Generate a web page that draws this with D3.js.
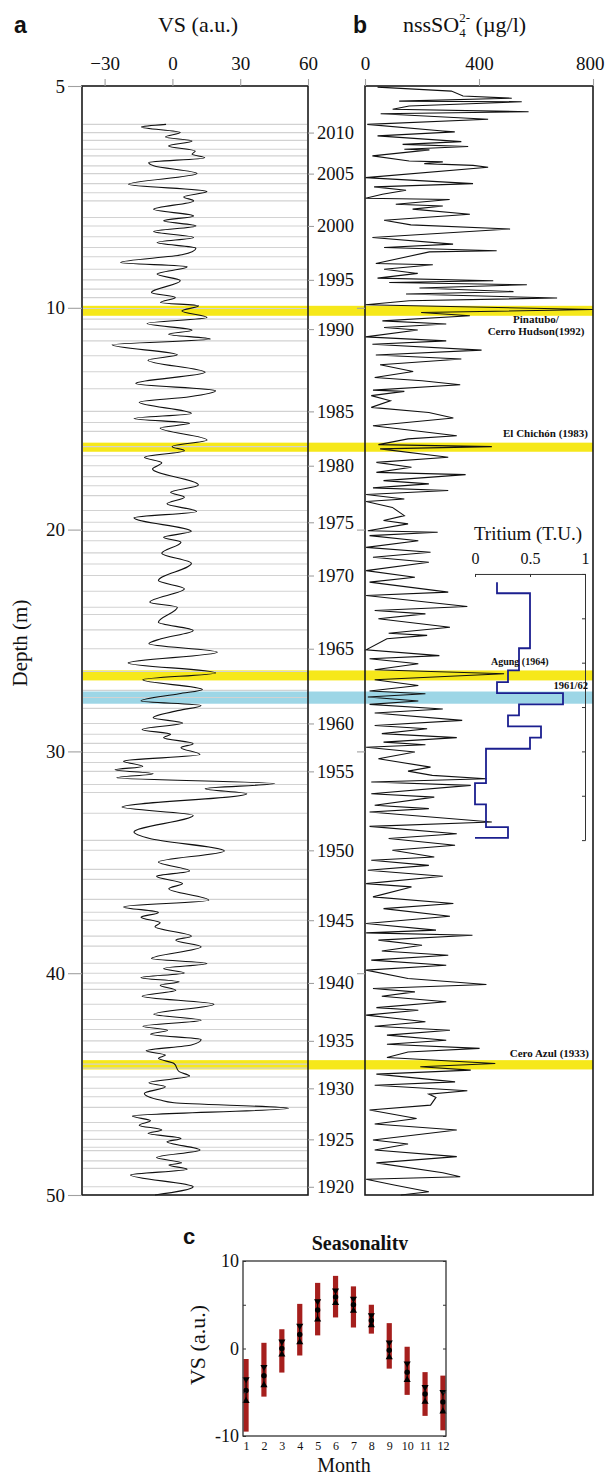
<!DOCTYPE html>
<html><head><meta charset="utf-8">
<script src="https://cdn.jsdelivr.net/npm/d3@7"></script>
<style>body{margin:0;background:#fff}svg{display:block}</style>
</head><body>
<svg id="chart" width="606" height="1477"></svg>
<script>
// ---------------- DATA ----------------
// depth axis
const depthTicks = [0, 10, 20, 30, 40, 50];
const depthTickLabels = ["5", "10", "20", "30", "40", "50"];
const vsTicks = [-30, 0, 30, 60];
const so4Ticks = [0, 400, 800];
const tritiumTicks = [0, 0.5, 1];
const tritiumTickLabels = ["0", "0.5", "1"];
const tritiumDepthTicks = [24, 26, 28, 30, 32];

// annual layers (depth of each year boundary, 2011 -> 1920)
const layerYears = d3.range(2011, 1919, -1);
const layerDepths = [1.73,2.10,2.45,2.85,3.15,3.60,3.95,4.40,4.81,5.18,5.93,6.31,
  6.80,7.28,7.70,8.26,8.74,9.16,9.54,10.03,10.51,10.96,
  11.49,12.16,12.88,13.65,14.67,15.17,15.57,16.26,16.67,17.12,
  17.61,18.02,18.47,19.14,19.67,20.08,20.50,21.05,21.55,22.07,
  22.78,23.50,23.83,24.52,25.37,26.40,27.25,27.57,28.06,28.74,
  29.23,29.64,30.05,30.50,30.90,31.49,31.85,32.79,34.01,34.46,
  35.32,35.77,36.67,37.25,37.61,38.33,38.78,39.55,40.00,40.44,
  40.73,41.40,42.09,42.54,43.05,43.56,44.10,44.28,44.68,45.19,
  45.57,46.05,46.73,47.10,47.49,47.85,48.00,48.46,48.80,49.63];
const labeledYears = [2010,2005,2000,1995,1990,1985,1980,1975,1970,1965,1960,1955,1950,1945,1940,1935,1930,1925,1920];

// VS profile (depth m, value a.u.)
const vsDepth = [1.73,1.85,2.10,2.30,2.48,2.70,2.93,3.08,3.23,3.45,3.60,3.95,4.43,4.76,5.00,5.18,5.56,5.86,6.08,6.31,
  6.56,6.83,7.06,7.31,7.61,7.96,8.15,8.48,8.78,9.31,9.53,9.76,9.91,10.14,10.44,10.71,11.01,11.19,11.41,11.67,
  12.12,12.36,12.91,13.41,13.74,14.01,14.26,14.76,14.99,15.21,15.42,15.96,16.26,16.44,16.74,16.99,17.27,17.99,18.32,18.54,
  18.84,19.18,19.47,20.08,20.35,20.57,21.07,21.52,22.30,22.67,23.27,23.50,24.18,24.55,24.92,25.15,25.53,26.01,26.46,26.77,
  27.21,27.40,27.73,27.93,28.15,28.48,28.72,29.01,29.23,29.38,29.65,29.83,30.14,30.44,30.68,30.83,31.01,31.19,31.45,31.68,
  31.91,32.51,32.88,33.63,33.93,34.49,34.99,35.39,35.63,35.96,36.19,36.71,37.01,37.26,37.48,37.73,37.91,38.33,38.51,38.81,
  39.34,39.56,39.79,39.99,40.20,40.39,40.54,40.77,41.04,41.40,41.85,42.12,42.39,42.57,42.75,42.99,43.24,43.50,43.69,43.84,
  44.07,44.44,44.64,44.94,45.12,45.42,45.72,45.84,46.09,46.44,46.65,46.85,47.07,47.22,47.45,47.60,47.97,48.31,48.55,48.65,
  48.84,49.10,49.63,50.00];
const vsValue = [-2.8,-13.7,3.5,-3.1,8.7,-1.7,10.1,8.7,14.3,-10.5,-8.3,10.9,-19.4,15.3,5.0,9.4,-8.3,9.4,-3.9,10.4,
  -8.3,9.4,-6.8,10.4,4.2,-23.0,6.5,-6.8,3.5,-9.3,1.3,-5.3,11.6,4.2,15.3,-11.2,8.7,-1.7,16.8,-26.7,
  2.2,-10.8,14.5,-16.2,19.1,7.6,-14.7,8.4,-17.0,7.6,-5.4,15.3,-0.1,5.3,-12.4,-4.7,-8.8,11.5,-0.8,5.3,
  -2.4,10.7,-17.0,8.4,-3.9,3.8,-4.7,8.4,-6.2,5.3,-10.0,2.2,-6.2,9.2,-5.0,-10.4,19.9,-19.6,19.1,-13.1,
  13.3,3.0,-13.9,12.7,3.0,-8.5,4.5,-13.4,-0.8,-3.9,9.2,3.8,12.2,-21.6,-13.1,-25.4,-8.5,-24.6,45.3,14.5,
  32.9,-22.3,9.2,-17.0,-10.0,23.0,-6.2,7.6,-7.0,4.5,-1.6,16.1,-21.6,-6.2,-13.9,-5.4,-7.7,8.4,1.5,12.7,
  -9.3,15.3,-3.9,5.3,-13.9,3.0,-5.4,1.5,-13.4,18.4,-8.2,12.7,-13.1,-2.1,-9.7,12.7,8.4,-11.6,-3.1,-6.2,
  0.7,3.0,7.6,-10.4,-3.1,-12.4,-5.4,0.7,51.4,-17.7,-9.7,-14.7,-4.7,-10.8,3.8,-2.4,12.2,-7.0,4.1,-1.6,
  6.5,-18.5,9.2,-7.7];

// nssSO4 profile (depth m, µg/l)
const so4Depth = [0.05,0.23,0.45,0.55,0.68,0.71,0.90,1.05,1.16,1.25,1.50,1.73,2.03,2.07,2.25,2.51,2.63,2.73,2.85,2.88,
  3.15,3.38,3.42,3.50,3.58,3.66,4.13,4.40,4.55,4.70,4.88,5.06,5.12,5.33,5.41,5.55,5.78,6.05,6.26,6.45,
  6.83,7.13,7.28,7.43,7.48,8.00,8.06,8.26,8.45,8.66,8.78,8.86,8.96,9.11,9.27,9.38,9.56,9.68,9.86,10.08,
  10.21,10.36,10.59,10.73,10.89,11.00,11.31,11.49,11.64,11.91,12.13,12.31,12.57,12.87,13.14,13.29,13.47,13.71,13.77,13.96,
  14.19,14.49,14.72,14.97,15.32,15.77,15.91,16.17,16.26,16.36,16.74,16.97,17.19,17.42,17.52,17.79,17.94,18.12,18.24,18.42,
  18.62,18.73,19.00,19.37,19.59,19.74,20.05,20.12,20.27,20.50,20.80,21.02,21.25,21.47,21.85,22.15,22.37,22.82,22.97,23.47,
  23.65,23.80,24.02,24.40,24.67,24.77,24.92,25.42,25.68,25.82,26.05,26.32,26.50,26.77,27.03,27.28,27.40,27.55,27.73,27.88,
  28.09,28.27,28.60,28.83,28.98,29.20,29.38,29.58,29.70,29.81,30.03,30.33,30.71,30.89,31.08,31.23,31.38,31.53,31.91,32.06,
  32.43,32.58,32.73,33.18,33.38,33.71,33.93,34.23,34.46,34.76,34.91,35.14,35.36,35.63,35.96,36.11,36.56,36.86,37.09,37.43,
  37.76,38.06,38.18,38.29,38.51,38.74,39.00,39.19,39.41,39.64,39.86,40.24,40.51,40.69,40.84,41.04,41.29,41.55,41.67,41.89,
  42.19,42.39,42.57,42.79,43.02,43.20,43.39,43.55,43.80,44.07,44.22,44.37,44.55,44.90,45.05,45.30,45.45,45.60,45.95,46.17,
  46.55,46.80,47.07,47.52,47.70,47.97,48.27,48.55,49.00,49.18,49.29,49.55,49.85,50.00];
const so4Value = [44,303,344,515,120,550,155,97,574,55,432,8,273,315,44,338,132,362,138,226,
  26,155,273,208,379,432,2,379,32,144,61,2,297,108,273,167,368,67,161,509,
  26,309,67,462,226,38,238,67,185,44,450,85,568,191,521,144,674,155,2,800,
  197,368,61,285,67,185,2,285,26,409,38,338,53,169,34,200,334,28,138,22,
  89,22,224,310,28,322,151,47,445,53,292,40,163,40,353,65,224,28,292,4,
  138,4,96,138,65,151,10,255,16,187,4,230,28,224,4,175,16,292,4,359,
  34,212,47,298,83,218,77,4,261,16,187,34,488,34,187,16,212,10,187,16,
  273,34,341,34,218,59,322,65,212,4,175,47,230,151,236,426,22,371,22,243,
  34,224,16,445,16,322,83,316,96,243,22,224,10,273,4,163,28,310,65,298,
  4,249,4,377,47,200,59,292,22,285,4,151,426,28,175,59,285,40,187,4,
  212,34,298,77,285,77,402,151,77,457,194,371,40,316,34,359,224,249,230,16,
  181,34,322,28,151,34,322,40,273,334,4,102,224,126];

// Tritium step profile (depth of step start, T.U.)
const tritiumDepth = [22.37,22.87,25.35,26.35,26.88,27.37,27.88,28.38,28.87,29.38,29.88,31.43,32.39,33.41,33.90];
const tritiumValue = [0.2,0.5,0.4,0.3,0.2,0.8,0.4,0.3,0.6,0.5,0.1,0.0,0.1,0.3,0.0];

// highlighted horizons
const bandTop = [9.91, 16.08, 26.35, 27.30, 43.92];
const bandBottom = [10.36, 16.49, 26.80, 27.85, 44.34];
const bandKind = ["volcanic", "volcanic", "volcanic", "bomb", "volcanic"];

// Seasonality (panel c)
const months = [1,2,3,4,5,6,7,8,9,10,11,12];
const seasonMean = [-4.8,-3.1,0.0,1.6,4.4,5.9,5.0,3.2,-0.2,-2.7,-5.2,-6.1];
const seasonUpper = [-3.4,-2.0,0.9,2.7,5.5,6.75,5.8,3.9,0.8,-1.6,-4.3,-4.85];
const seasonLower = [-6.1,-4.3,-0.8,0.6,3.2,5.1,4.2,2.55,-1.1,-3.7,-6.2,-7.3];
const seasonMax = [-1.2,0.65,2.2,5.1,7.5,8.3,7.1,5.0,2.9,0.2,-2.7,-3.1];
const seasonMin = [-9.5,-5.5,-2.75,-0.8,1.5,3.55,2.4,1.7,-2.3,-5.3,-7.7,-9.35];
const seasonYTicks = [-10, -5, 0, 5, 10];
const seasonYLabels = {"-10": "-10", "0": "0", "10": "10"};

// ---------------- DRAWING ----------------
const serif = "'Liberation Serif','Times New Roman',Times,serif";
const sans = "'Liberation Sans',Arial,Helvetica,sans-serif";
const svg = d3.select("#chart");

const yD = d3.scaleLinear().domain([0, 50]).range([86, 1195]);
const xA = d3.scaleLinear().domain([-40, 60]).range([82, 308]);
const xB = d3.scaleLinear().domain([0, 800]).range([365, 593]);
const xT = d3.scaleLinear().domain([0, 1]).range([475, 585]);
const yT = d3.scaleLinear().domain([22, 34]).range([yD(22), yD(34)]);

const bandColor = {volcanic: "#f6e81a", bomb: "#9dd6e6"};

// horizons
svg.append("g").selectAll("rect").data(bandTop).join("rect")
  .attr("x", xA.range()[0] + 1)
  .attr("width", xB.range()[1] - xA.range()[0] - 1)
  .attr("y", d => yD(d))
  .attr("height", (d, i) => yD(bandBottom[i]) - yD(d))
  .attr("fill", (d, i) => bandColor[bandKind[i]]);

// annual layer lines
svg.append("g").selectAll("line").data(layerDepths).join("line")
  .attr("x1", xA.range()[0] + 1).attr("x2", xA.range()[1] - 1)
  .attr("y1", d => yD(d)).attr("y2", d => yD(d))
  .attr("stroke", "#d2d2d2").attr("stroke-width", 1.1);

// VS curve
const vsLine = d3.line()
  .x((d, i) => xA(vsValue[i]))
  .y(d => yD(d))
  .curve(d3.curveMonotoneY);
svg.append("path").datum(vsDepth).attr("d", vsLine)
  .attr("fill", "none").attr("stroke", "#111").attr("stroke-width", 1.1);

// SO4 curve
const so4Line = d3.line()
  .x((d, i) => xB(so4Value[i]))
  .y(d => yD(d));
svg.append("path").datum(so4Depth).attr("d", so4Line)
  .attr("fill", "none").attr("stroke", "#111").attr("stroke-width", 1.1)
  .attr("stroke-linejoin", "miter");

// Tritium step
const trLine = d3.line()
  .x((d, i) => xT(tritiumValue[i]))
  .y(d => yD(d))
  .curve(d3.curveStepBefore);
svg.append("path").datum(tritiumDepth).attr("d", trLine)
  .attr("fill", "none").attr("stroke", "#1b1f8f").attr("stroke-width", 1.8);

// Tritium axes
const trTop = svg.append("g").attr("transform", `translate(0,${yD(22)})`)
  .call(d3.axisTop(xT).tickValues(tritiumTicks).tickSizeInner(-3).tickSizeOuter(-3).tickPadding(10)
    .tickFormat((d, i) => tritiumTickLabels[i]));
trTop.selectAll("text").attr("font-family", serif).attr("font-size", 16).attr("fill", "#111");
trTop.selectAll("line,path").attr("stroke", "#333");
const trRight = svg.append("g").attr("transform", `translate(${xT(1)},0)`)
  .call(d3.axisRight(yT).tickValues(tritiumDepthTicks).tickSizeInner(-3).tickSizeOuter(-3).tickFormat(""));
trRight.selectAll("line,path").attr("stroke", "#333");
svg.append("text").attr("x", (xT(0) + xT(1)) / 2 - 2).attr("y", 540)
  .attr("text-anchor", "middle").attr("font-family", serif).attr("font-size", 19)
  .attr("fill", "#111").text("Tritium (T.U.)");

// frames
svg.append("rect").attr("x", xA.range()[0]).attr("y", yD(0))
  .attr("width", xA.range()[1] - xA.range()[0]).attr("height", yD(50) - yD(0))
  .attr("fill", "none").attr("stroke", "#1a1a1a").attr("stroke-width", 1.6);
svg.append("rect").attr("x", xB.range()[0]).attr("y", yD(0))
  .attr("width", xB.range()[1] - xB.range()[0]).attr("height", yD(50) - yD(0))
  .attr("fill", "none").attr("stroke", "#1a1a1a").attr("stroke-width", 1.6);

function styleAxis(g, size) {
  g.select(".domain").remove();
  g.selectAll("line").attr("stroke", "#a0a0a0").attr("stroke-width", 1.1);
  g.selectAll("text").attr("font-family", serif).attr("font-size", size).attr("fill", "#111");
}

// depth axis
const gDepth = svg.append("g").attr("transform", `translate(${xA.range()[0]},0)`)
  .call(d3.axisLeft(yD).tickValues(depthTicks).tickSize(14).tickPadding(3)
    .tickFormat((d, i) => depthTickLabels[i]));
styleAxis(gDepth, 19);
// panel b depth ticks
const gDepthB = svg.append("g").attr("transform", `translate(${xB.range()[0]},0)`)
  .call(d3.axisLeft(yD).tickValues(depthTicks.slice(1, 5)).tickSize(8).tickFormat(""));
styleAxis(gDepthB, 19);

// top axes
const gTopA = svg.append("g").attr("transform", `translate(0,${yD(0)})`)
  .call(d3.axisTop(xA).tickValues(vsTicks).tickSize(7).tickPadding(9));
styleAxis(gTopA, 19);
const gTopB = svg.append("g").attr("transform", `translate(0,${yD(0)})`)
  .call(d3.axisTop(xB).tickValues(so4Ticks).tickSize(7).tickPadding(9));
styleAxis(gTopB, 19);
// keep the last label inside the page
gTopB.selectAll("text").filter(d => d === 800).attr("text-anchor", "end").attr("x", 11);

// year axis
const yearDepth = labeledYears.map(y => layerDepths[layerYears.indexOf(y)]);
const gYear = svg.append("g").attr("transform", `translate(${xA.range()[1]},0)`)
  .call(d3.axisRight(yD).tickValues(yearDepth).tickSize(6).tickPadding(3)
    .tickFormat((d, i) => labeledYears[i]));
styleAxis(gYear, 18.5);

// headers
svg.append("text").attr("x", 14).attr("y", 33).attr("font-family", sans).attr("font-weight", "bold")
  .attr("font-size", 23).attr("fill", "#111").text("a");
svg.append("text").attr("x", 353).attr("y", 33).attr("font-family", sans).attr("font-weight", "bold")
  .attr("font-size", 23).attr("fill", "#111").text("b");
svg.append("text").attr("x", 198).attr("y", 32).attr("text-anchor", "middle").attr("font-family", serif)
  .attr("font-size", 22).attr("fill", "#111").text("VS (a.u.)");
const hb = svg.append("text").attr("x", 403).attr("y", 32).attr("font-family", serif)
  .attr("font-size", 22).attr("fill", "#111");
hb.append("tspan").text("nssSO");
hb.append("tspan").attr("font-size", 13).attr("dy", 5).text("4");
hb.append("tspan").attr("font-size", 13).attr("dx", -6.5).attr("dy", -15).text("2-");
hb.append("tspan").attr("font-size", 22).attr("dy", 10).text(" (\u00b5g/l)");

svg.append("text").attr("transform", "translate(27,643) rotate(-90)").attr("text-anchor", "middle")
  .attr("font-family", serif).attr("font-size", 21).attr("fill", "#111").text("Depth (m)");

// event labels
function evLabel(x, y, anchor, size, txt) {
  svg.append("text").attr("x", x).attr("y", y).attr("text-anchor", anchor)
    .attr("font-family", serif).attr("font-weight", "bold").attr("font-size", size)
    .attr("fill", "#111").text(txt);
}
evLabel(536, 323, "middle", 11, "Pinatubo/");
evLabel(536, 335, "middle", 11, "Cerro Hudson(1992)");
evLabel(588, 437, "end", 11, "El Chichón (1983)");
evLabel(491, 665, "start", 10, "Agung (1964)");
evLabel(588, 689, "end", 10.5, "1961/62");
evLabel(589, 1057, "end", 11, "Cero Azul (1933)");

// ---------------- Panel c ----------------
const xC = d3.scaleLinear().domain([0.83, 12.17]).range([243, 446]);
const yC = d3.scaleLinear().domain([-10, 10]).range([1436, 1261]);

svg.append("text").attr("x", 183).attr("y", 1244).attr("font-family", sans).attr("font-weight", "bold")
  .attr("font-size", 22).attr("fill", "#111").text("c");
svg.append("clipPath").attr("id", "titleclip").append("rect")
  .attr("x", 250).attr("y", 1215).attr("width", 200).attr("height", 35);
svg.append("text").attr("x", 360).attr("y", 1250).attr("text-anchor", "middle")
  .attr("clip-path", "url(#titleclip)")
  .attr("font-family", serif).attr("font-weight", "bold").attr("font-size", 20).attr("fill", "#111")
  .text("Seasonality");

// bars
svg.append("g").selectAll("rect").data(months).join("rect")
  .attr("x", d => xC(d) - 2.6).attr("width", 5.2)
  .attr("y", (d, i) => yC(seasonMax[i]))
  .attr("height", (d, i) => yC(seasonMin[i]) - yC(seasonMax[i]))
  .attr("fill", "#a51f1d");
svg.append("g").selectAll("line").data(months).join("line")
  .attr("x1", d => xC(d)).attr("x2", d => xC(d))
  .attr("y1", (d, i) => yC(seasonUpper[i])).attr("y2", (d, i) => yC(seasonLower[i]))
  .attr("stroke", "#000").attr("stroke-width", 1.1);
const tri = d3.symbol().type(d3.symbolTriangle).size(22);
svg.append("g").selectAll("path").data(months).join("path")
  .attr("d", tri)
  .attr("transform", (d, i) => `translate(${xC(d)},${yC(seasonUpper[i]) + 1}) rotate(180)`)
  .attr("fill", "#000");
svg.append("g").selectAll("path").data(months).join("path")
  .attr("d", tri)
  .attr("transform", (d, i) => `translate(${xC(d)},${yC(seasonLower[i]) - 1})`)
  .attr("fill", "#000");
svg.append("g").selectAll("circle").data(months).join("circle")
  .attr("cx", d => xC(d)).attr("cy", (d, i) => yC(seasonMean[i])).attr("r", 2.7)
  .attr("fill", "#000");

// panel c axes
const gCL = svg.append("g").attr("transform", `translate(${xC.range()[0]},0)`)
  .call(d3.axisLeft(yC).tickValues(seasonYTicks).tickSizeInner(-3).tickSizeOuter(0).tickPadding(4)
    .tickFormat(d => seasonYLabels[String(d)] || ""));
gCL.select(".domain").remove();
gCL.selectAll("line").attr("stroke", "#333");
gCL.selectAll("text").attr("font-family", serif).attr("font-size", 18).attr("fill", "#111");
const gCR = svg.append("g").attr("transform", `translate(${xC.range()[1]},0)`)
  .call(d3.axisRight(yC).tickValues(seasonYTicks).tickSizeInner(-3).tickSizeOuter(0).tickFormat(""));
gCR.select(".domain").remove();
gCR.selectAll("line").attr("stroke", "#333");
const gCB = svg.append("g").attr("transform", `translate(0,${yC.range()[0]})`)
  .call(d3.axisBottom(xC).tickValues(months).tickSize(0).tickPadding(5));
gCB.select(".domain").remove();
gCB.selectAll("text").attr("font-family", serif).attr("font-size", 12).attr("fill", "#111");

svg.append("rect").attr("x", xC.range()[0]).attr("y", yC.range()[1])
  .attr("width", xC.range()[1] - xC.range()[0]).attr("height", yC.range()[0] - yC.range()[1])
  .attr("fill", "none").attr("stroke", "#333").attr("stroke-width", 1.3);

svg.append("text").attr("transform", "translate(205,1345) rotate(-90)").attr("text-anchor", "middle")
  .attr("font-family", serif).attr("font-size", 22).attr("fill", "#111").text("VS (a.u.)");
svg.append("text").attr("x", 344).attr("y", 1472).attr("text-anchor", "middle")
  .attr("font-family", serif).attr("font-size", 20).attr("fill", "#111").text("Month");
</script>
</body></html>
